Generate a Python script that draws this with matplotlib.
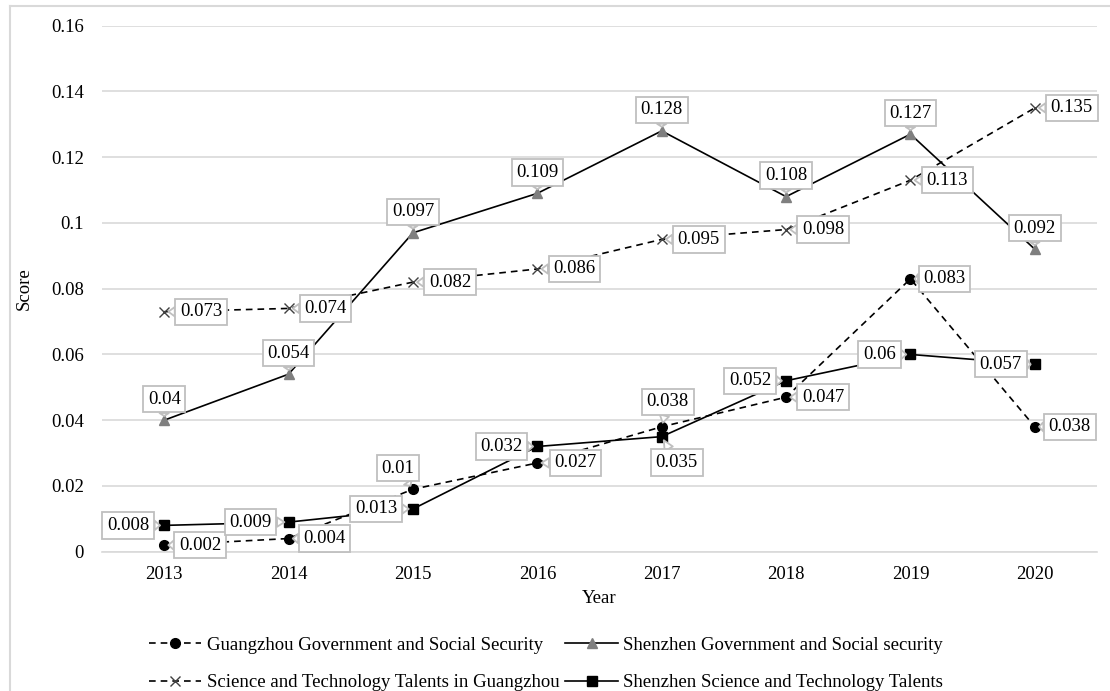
import matplotlib
matplotlib.use("Agg")
import matplotlib.pyplot as plt
from matplotlib.lines import Line2D

plt.rcParams['font.family'] = ['Liberation Serif', 'DejaVu Serif']

# datos
years = ['2013', '2014', '2015', '2016', '2017', '2018', '2019', '2020']
gz_gov = [0.002, 0.004, 0.019, 0.027, 0.038, 0.047, 0.083, 0.038]
gz_gov_txt = ['0.002', '0.004', '0.01', '0.027', '0.038', '0.047', '0.083', '0.038']
sz_gov = [0.04, 0.054, 0.097, 0.109, 0.128, 0.108, 0.127, 0.092]
gz_tal = [0.073, 0.074, 0.082, 0.086, 0.095, 0.098, 0.113, 0.135]
sz_tal = [0.008, 0.009, 0.013, 0.032, 0.035, 0.052, 0.06, 0.057]

yticks = [0, 0.02, 0.04, 0.06, 0.08, 0.1, 0.12, 0.14, 0.16]
ytick_txt = ['0', '0.02', '0.04', '0.06', '0.08', '0.1', '0.12', '0.14', '0.16']

fs = 13.5
fig = plt.figure(figsize=(11.1, 6.91), dpi=100)
ax = fig.add_axes([0.0919, 0.2016, 0.8964, 0.7612])

x = list(range(len(years)))
grid_col = '#d9d9d9'
box_col = '#bfbfbf'

l1, = ax.plot(x, gz_gov, color='black', lw=1.2, ls=(0, (4, 3)), marker='o', ms=7,
              mfc='black', mec='black', label='Guangzhou Government and Social Security', zorder=3)
l2, = ax.plot(x, sz_gov, color='black', lw=1.2, ls='-', marker='^', ms=7,
              mfc='#7f7f7f', mec='#7f7f7f', label='Shenzhen Government and Social security', zorder=3)
l3, = ax.plot(x, gz_tal, color='black', lw=1.2, ls=(0, (4, 3)), marker='x', ms=7,
              mec='#404040', mew=1.0, label='Science and Technology Talents in Guangzhou', zorder=3)
l4, = ax.plot(x, sz_tal, color='black', lw=1.2, ls='-', marker='s', ms=7,
              mfc='black', mec='black', label='Shenzhen Science and Technology Talents', zorder=3)

def callout(xi, yi, txt, dx, dy):
    ax.annotate(txt, (xi, yi), xytext=(dx, -dy), textcoords='offset pixels',
                ha='center', va='center', fontsize=fs, zorder=5,
                bbox=dict(boxstyle='square,pad=0.25', fc='white', ec=box_col, lw=1.3),
                arrowprops=dict(arrowstyle='wedge,tail_width=0.5,shrink_factor=0.5',
                                fc='white', ec=box_col, lw=1.3, shrinkA=0, shrinkB=3))

# posiciones de las etiquetas (px)
off_gz_gov = [(36, 0), (36, 0), (-15, -21), (38, 0), (6, -25), (37, 0), (34, 0), (35, 0)]
off_sz_gov = [(0, -21)] * 8
off_gz_tal = [(37, 0)] * 8
off_sz_tal = [(-36, 0), (-38, 0), (-37, 0), (-36, 0), (15, 26), (-36, 0), (-31, 0), (-34, 0)]

for i in x:
    callout(i, gz_gov[i], gz_gov_txt[i], *off_gz_gov[i])
    callout(i, sz_gov[i], f'{sz_gov[i]:g}', *off_sz_gov[i])
    callout(i, gz_tal[i], f'{gz_tal[i]:g}', *off_gz_tal[i])
    callout(i, sz_tal[i], f'{sz_tal[i]:g}', *off_sz_tal[i])

ax.set_xlim(-0.5, 7.5)
ax.set_ylim(0, 0.16)
ax.set_xticks(x)
ax.set_xticklabels(years, fontsize=fs)
ax.set_yticks(yticks)
ax.set_yticklabels(ytick_txt, fontsize=fs)
ax.tick_params(length=0, pad=13)
ax.tick_params(axis='x', pad=10)
ax.grid(axis='y', color=grid_col, lw=1.2)
for s in ['top', 'right', 'left']:
    ax.spines[s].set_visible(False)
ax.spines['bottom'].set_color(grid_col)
ax.spines['bottom'].set_linewidth(1.2)
ax.set_axisbelow(True)

ax.set_xlabel('Year', fontsize=fs, labelpad=5)
ax.set_ylabel('Score', fontsize=fs, labelpad=13)

# orden de la leyenda por filas como en el original
fig.legend([l1, l3, l2, l4], [l1.get_label(), l3.get_label(), l2.get_label(), l4.get_label()],
           loc='center', bbox_to_anchor=(0.492, 0.039), ncol=2, frameon=False,
           fontsize=fs, handlelength=2.8, handletextpad=0.3, columnspacing=0.3,
           labelspacing=1.1)

# borde exterior del grafico
fig.add_artist(Line2D([10 / 1110, 10 / 1110], [0, 1 - 6 / 691], color=grid_col, lw=1.5,
                      transform=fig.transFigure))
fig.add_artist(Line2D([10 / 1110, 1], [1 - 6 / 691, 1 - 6 / 691], color=grid_col, lw=1.5,
                      transform=fig.transFigure))

fig.savefig('out.png', dpi=100)
